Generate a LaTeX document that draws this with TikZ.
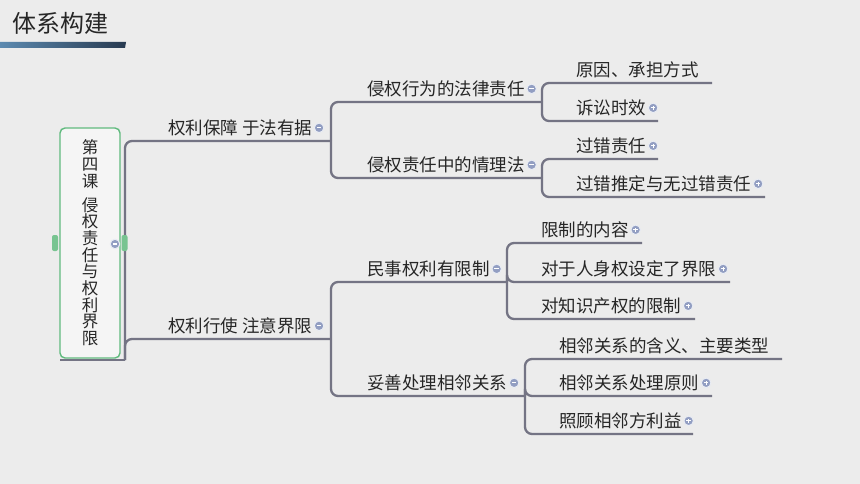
\documentclass[tikz,border=0pt]{standalone}
\usepackage{fontspec}
\setmainfont{Noto Sans CJK SC}
\usetikzlibrary{positioning}
\definecolor{bgc}{RGB}{236,236,236}
\definecolor{linec}{RGB}{116,116,132}
\definecolor{boxc}{RGB}{96,186,126}
\definecolor{icoc}{RGB}{146,158,194}
\definecolor{barl}{RGB}{92,138,176}
\definecolor{barr}{RGB}{40,58,80}
\tikzset{
    topic/.style={anchor=base west, inner sep=0pt, font=\fontsize{17.5}{20}\selectfont, text=black!85}, % 主题文字的样式
    link/.style={draw=linec, line width=2.3pt, rounded corners=7pt}, % 连线的样式
    ico/.style={circle, draw=white!80!icoc, line width=1pt, fill=icoc, minimum size=9.5pt, inner sep=0pt}, % 折叠按钮
    icominus/.style={ico, path picture={\draw[white, line width=1.2pt] ([xshift=-2.3pt]path picture bounding box.center) -- ([xshift=2.3pt]path picture bounding box.center);}},
    icoplus/.style={ico, path picture={\draw[white, line width=1.2pt] ([xshift=-2.3pt]path picture bounding box.center) -- ([xshift=2.3pt]path picture bounding box.center) ([yshift=-2.3pt]path picture bounding box.center) -- ([yshift=2.3pt]path picture bounding box.center);}},
    tab/.style={fill=boxc!85!white, rounded corners=2pt, minimum width=6pt, minimum height=16pt, inner sep=0pt} % 中心主题两侧的小标签
}

\begin{document}
\begin{tikzpicture}[x=1pt, y=-1pt]
    \fill[bgc] (0,0) rectangle (860,484);
    \useasboundingbox (0,0) rectangle (860,484);

    % 标题
    \node[anchor=base west, inner sep=0pt, font=\fontsize{24}{24}\selectfont, text=black!85] (title) at (12,33) {体系构建};
    \shade[left color=barl, right color=barr] (0,42) -- (126,42) -- (125,48) -- (0,48) -- cycle;

    % 各级连线的端点
    \coordinate (rt-e) at (125,360);
    \coordinate (b1-e) at (331,141);   \coordinate (b2-e) at (331,339);
    \coordinate (b11-e) at (542,102);  \coordinate (b12-e) at (542,178);
    \coordinate (b111-e) at (712,83);  \coordinate (b112-e) at (658,121);
    \coordinate (b121-e) at (658,159); \coordinate (b122-e) at (765,197);
    \coordinate (b21-e) at (507,282);  \coordinate (b22-e) at (525,396);
    \coordinate (b211-e) at (642,243); \coordinate (b212-e) at (730,282); \coordinate (b213-e) at (695,319);
    \coordinate (b221-e) at (782,359); \coordinate (b222-e) at (712,396); \coordinate (b223-e) at (693,434);

    \draw[link, rounded corners=0pt] (60,360) -- (rt-e);
    \foreach \p/\c in {rt/b1, rt/b2, b1/b11, b1/b12, b11/b111, b11/b112, b12/b121, b12/b122,
                       b2/b21, b2/b22, b21/b211, b21/b212, b21/b213, b22/b221, b22/b222, b22/b223}
        \draw[link] (\p-e) |- (\c-e);

    % 中心主题
    \node[draw=boxc, line width=1.4pt, rounded corners=5pt, fill=bgc!50!white, minimum width=60pt, minimum height=230pt,
          inner sep=0pt, align=center, text=black!85, font=\fontsize{16.5}{16.7}\selectfont] (root) at (90,243)
        {第\\四\\课\\[7pt]侵\\权\\责\\任\\与\\权\\利\\界\\限};
    \node[tab] (tab-l) at (55,243) {};
    \node[tab] (tab-r) at (124.5,243) {};
    \node[icominus] (root-i) at (115,244) {};

    % 一级分支
    \node[topic] (b1) at (168,134.5) {权利保障 于法有据};
    \node[icominus, right=1.5pt of b1] (b1-i) {};
    \node[topic] (b2) at (168,332.5) {权利行使 注意界限};
    \node[icominus, right=1.5pt of b2] (b2-i) {};

    % 二级分支
    \node[topic] (b11) at (367,95.5) {侵权行为的法律责任};
    \node[icominus, right=1.5pt of b11] (b11-i) {};
    \node[topic] (b12) at (367,171.5) {侵权责任中的情理法};
    \node[icominus, right=1.5pt of b12] (b12-i) {};
    \node[topic] (b21) at (367,275.5) {民事权利有限制};
    \node[icominus, right=1.5pt of b21] (b21-i) {};
    \node[topic] (b22) at (367,389.5) {妥善处理相邻关系};
    \node[icominus, right=1.5pt of b22] (b22-i) {};

    % 三级分支
    \node[topic] (b111) at (576,76.5) {原因、承担方式};
    \node[topic] (b112) at (576,114.5) {诉讼时效};
    \node[icoplus, right=1.5pt of b112] (b112-i) {};
    \node[topic] (b121) at (576,152.5) {过错责任};
    \node[icoplus, right=1.5pt of b121] (b121-i) {};
    \node[topic] (b122) at (576,190.5) {过错推定与无过错责任};
    \node[icoplus, right=1.5pt of b122] (b122-i) {};

    \node[topic] (b211) at (541,236.5) {限制的内容};
    \node[icoplus, right=1.5pt of b211] (b211-i) {};
    \node[topic] (b212) at (541,275.5) {对于人身权设定了界限};
    \node[icoplus, right=1.5pt of b212] (b212-i) {};
    \node[topic] (b213) at (541,312.5) {对知识产权的限制};
    \node[icoplus, right=1.5pt of b213] (b213-i) {};

    \node[topic] (b221) at (559,352.5) {相邻关系的含义、主要类型};
    \node[topic] (b222) at (559,389.5) {相邻关系处理原则};
    \node[icoplus, right=1.5pt of b222] (b222-i) {};
    \node[topic] (b223) at (559,427.5) {照顾相邻方利益};
    \node[icoplus, right=1.5pt of b223] (b223-i) {};
\end{tikzpicture}
\end{document}
